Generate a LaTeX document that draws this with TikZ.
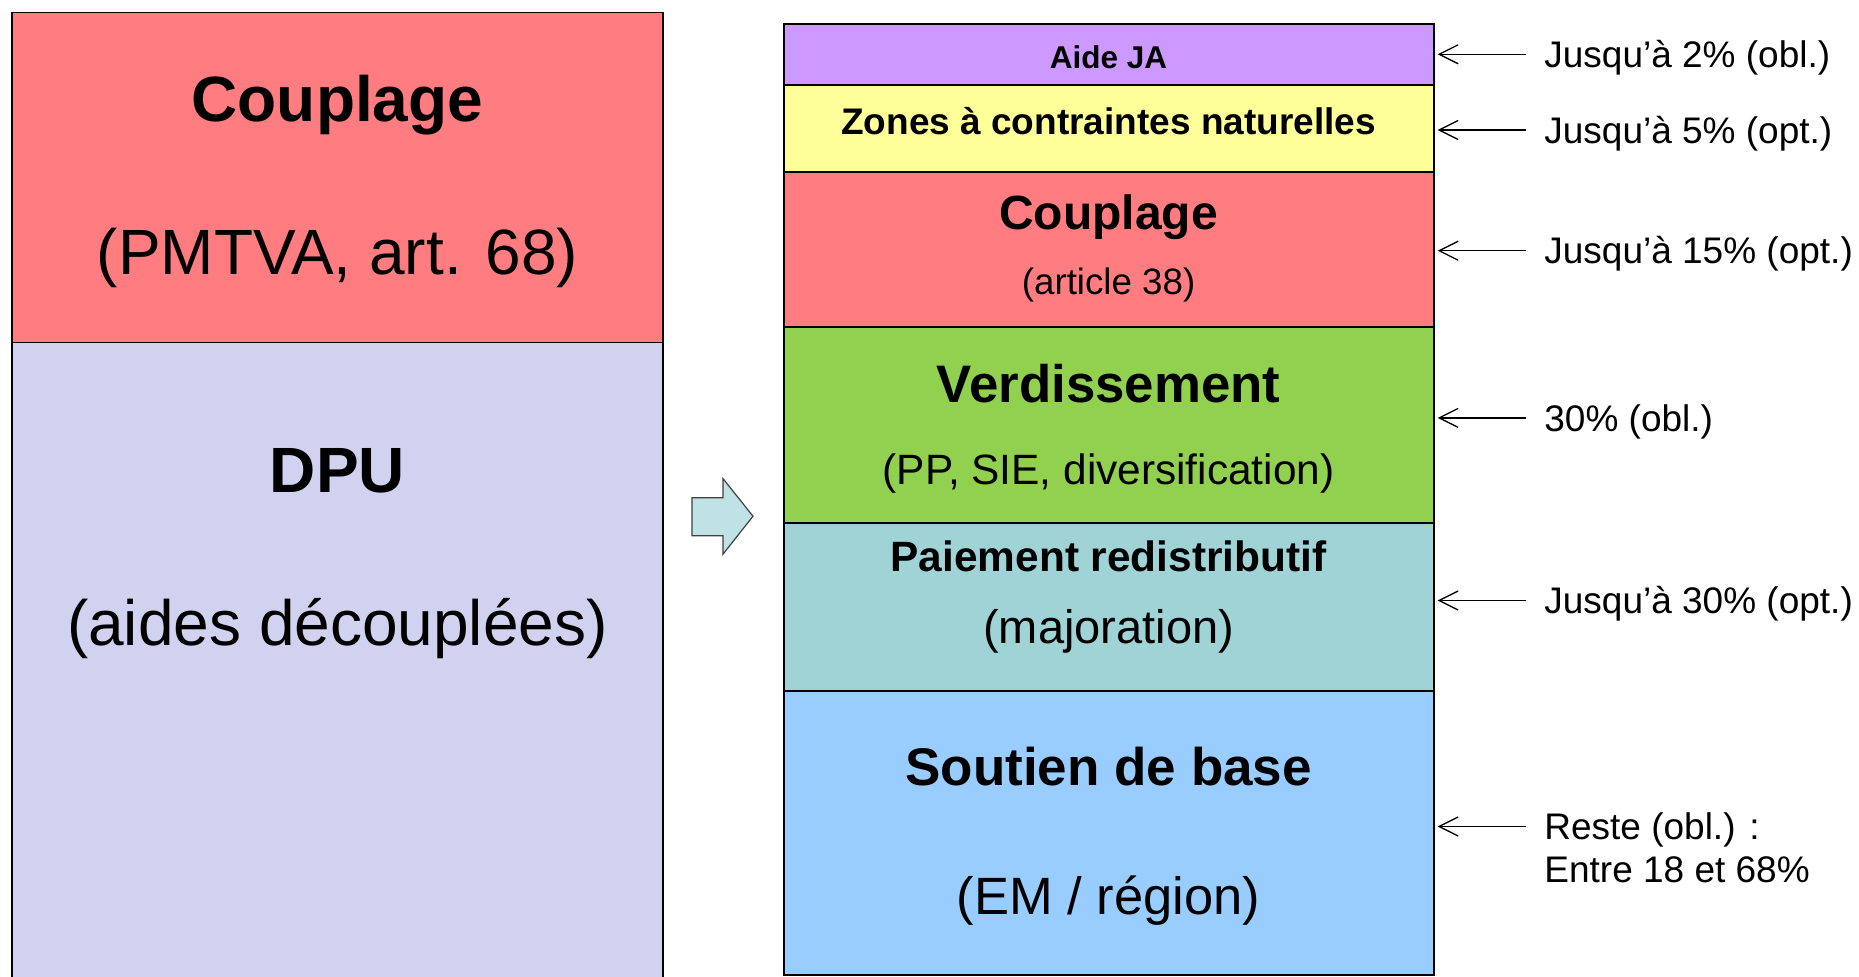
\documentclass[tikz,border=0pt]{standalone}
\usepackage{fontspec}
\setmainfont{Liberation Sans}
\usetikzlibrary{arrows.meta}
\definecolor{cred}{HTML}{FF7C80}
\definecolor{clav}{HTML}{D0D2F0}
\definecolor{cpur}{HTML}{CC99FF}
\definecolor{cyel}{HTML}{FFFF99}
\definecolor{cgrn}{HTML}{92D050}
\definecolor{cteal}{HTML}{9FD3D6}
\definecolor{cblue}{HTML}{99CCFF}
\definecolor{carrow}{HTML}{BFE2E4}
\tikzset{
  lblk/.style={draw=black, line width=0.75pt, inner sep=0pt, outer sep=0pt, minimum width=325.4pt},
  rblk/.style={draw=black, line width=1pt, inner sep=0pt, outer sep=0pt, minimum width=325.1pt},
  tb/.style={anchor=base, inner sep=0pt, font=\fontsize{#1}{#1}\selectfont\bfseries},
  tn/.style={anchor=base, inner sep=0pt, font=\fontsize{#1}{#1}\selectfont},
  lab/.style={anchor=west, inner xsep=9pt, inner ysep=0pt, text height=13.25pt, text depth=0pt, font=\fontsize{18.5pt}{22pt}\selectfont},
  labb/.style={anchor=base west, inner xsep=9pt, inner ysep=0pt, font=\fontsize{18.5pt}{22pt}\selectfont},
  arr/.style={{Straight Barb[length=9.5pt,width=9.5pt]}-, line width=0.65pt, shorten <=2pt},
}
\begin{document}
\begin{tikzpicture}[x=0.5pt,y=-0.5pt]
\clip (0,0) rectangle (1859,977);
\fill[white] (0,0) rectangle (1859,977);
% left column
\node[lblk, fill=cred, minimum height=165pt] (l1) at (337.4,177.7) {};
\node[lblk, fill=clav, minimum height=328.65pt] (l2) at (337.4,671.35) {};
\node[tb=32pt] (lt1) at (337.4,121.7) {Couplage};
\node[tn=32pt] (lt2) at (337.4,275) {(PMTVA, art. 68)};
\node[tb=32pt] (lt3) at (337.4,492.3) {DPU};
\node[tn=32pt] (lt4) at (337.4,645.3) {(aides découplées)};
% block arrow
\draw[fill=carrow, draw=black!75, line width=0.6pt] (692,497.7) -- (723,497.7) -- (723,478.6) -- (753,516.2) -- (723,554.2) -- (723,535.7) -- (692,535.7) -- cycle;
% right column
\node[rblk, fill=cpur, minimum height=30.5pt] (r1) at (1108.6,54.5) {};
\node[rblk, fill=cyel, minimum height=43.6pt] (r2) at (1108.6,128.6) {};
\node[rblk, fill=cred, minimum height=77.4pt] (r3) at (1108.6,249.6) {};
\node[rblk, fill=cgrn, minimum height=98.25pt] (r4) at (1108.6,425.25) {};
\node[rblk, fill=cteal, minimum height=83.65pt] (r5) at (1108.6,607.15) {};
\node[rblk, fill=cblue, minimum height=142.35pt] (r6) at (1108.6,833.15) {};
\node[tb=15.75pt] (rt1) at (1108.6,69) {Aide JA};
\node[tb=18.5pt] (rt2) at (1108.6,135) {Zones à contraintes naturelles};
\node[tb=24pt] (rt3) at (1108.6,230) {Couplage};
\node[tn=18.35pt] (rt3b) at (1108.6,295) {(article 38)};
\node[tb=26.4pt] (rt4) at (1108.6,402.3) {Verdissement};
\node[tn=21.2pt] (rt4b) at (1108.6,485) {(PP, SIE, diversification)};
\node[tb=21.2pt] (rt5) at (1108.6,571.7) {Paiement redistributif};
\node[tn=23.5pt] (rt5b) at (1108.6,644) {(majoration)};
\node[tb=26.5pt] (rt6) at (1108.6,786) {Soutien de base};
\node[tn=26.25pt] (rt6b) at (1108.6,914) {(EM / région)};
% labels
\node[lab] (a1) at (1526,54.3) {Jusqu’à 2\% (obl.)};
\node[lab] (a2) at (1526,130) {Jusqu’à 5\% (opt.)};
\node[lab] (a3) at (1526,250.7) {Jusqu’à 15\% (opt.)};
\node[lab] (a4) at (1526,417.9) {30\% (obl.)};
\node[lab] (a5) at (1526,600.5) {Jusqu’à 30\% (opt.)};
\node[lab] (a6) at (1526,826.5) {Reste (obl.) :};
\node[labb] (a6b) at (1526,882.5) {Entre 18 et 68\%};
\draw[arr] (r1.east |- a1.west) -- (a1.west);
\draw[arr] (r2.east |- a2.west) -- (a2.west);
\draw[arr] (r3.east |- a3.west) -- (a3.west);
\draw[arr] (r4.east |- a4.west) -- (a4.west);
\draw[arr] (r5.east |- a5.west) -- (a5.west);
\draw[arr] (r6.east |- a6.west) -- (a6.west);
\end{tikzpicture}
\end{document}
